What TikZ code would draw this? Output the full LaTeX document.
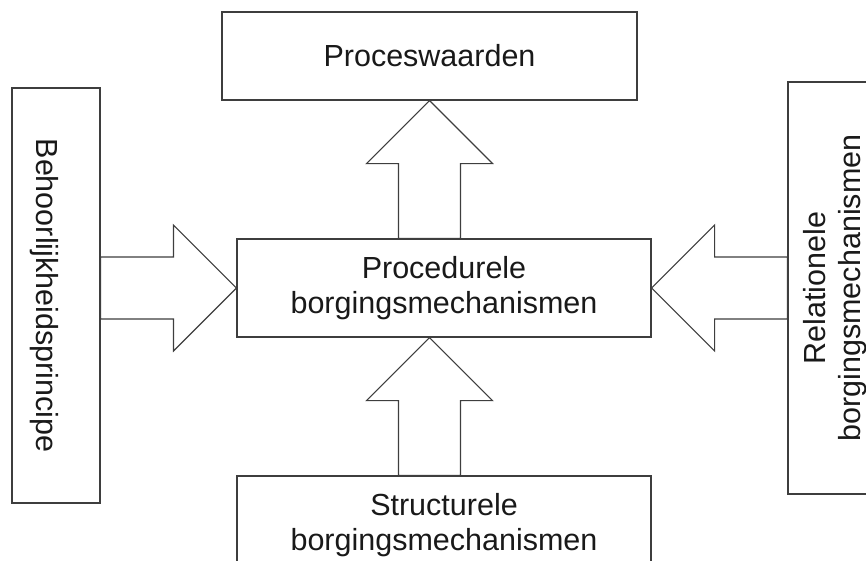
\documentclass[tikz,border=0pt]{standalone}
\usepackage{fontspec}
\setmainfont{Liberation Sans}
\usepackage{graphicx}
\usetikzlibrary{calc,positioning}
\definecolor{dgLine}{RGB}{62,62,62}
\definecolor{dgText}{RGB}{25,25,25}

\begin{document}
\begin{tikzpicture}[
  x=1pt, y=-1pt,
  font=\fontsize{30.5}{35}\selectfont,
  box/.style={draw=dgLine, line width=1.2pt, inner sep=0pt, align=center, text=dgText},
  hbox/.style={box, minimum width=414pt, minimum height=98pt},
  vbox/.style={box, minimum width=88pt, minimum height=415pt},
  bigar/.style={draw=dgLine, line width=1.2pt, line join=miter,
    to path={let \p1=($(\tikztotarget)!63pt!(\tikztostart)$) in
      ($(\tikztostart)!31pt!90:(\tikztotarget)$)
      -- ($(\p1)!31pt!90:(\tikztotarget)$)
      -- ($(\p1)!63pt!90:(\tikztotarget)$)
      -- (\tikztotarget)
      -- ($(\p1)!63pt!-90:(\tikztotarget)$)
      -- ($(\p1)!31pt!-90:(\tikztotarget)$)
      -- ($(\tikztostart)!31pt!-90:(\tikztotarget)$)
      -- cycle}}
]
  \useasboundingbox (0,0) rectangle (866,560);
  \clip (0,0) rectangle (866,560);
  \node[box, minimum width=415pt, minimum height=88pt] (pw) at (429.5,56) {Proceswaarden};
  \node[hbox] (proc) at (444,288) {Procedurele\\borgingsmechanismen};
  \node[hbox] (str) at (444,525) {Structurele\\borgingsmechanismen};
  \node[vbox] (beh) at (56,295.5) {\rotatebox{-90}{Behoorlijkheidsprincipe}\hspace*{24pt}};
  \node[vbox, minimum width=96pt, minimum height=412pt] (rel) at (836,288)
    {\rotatebox{90}{\begin{tabular}{@{}c@{}}Relationele\\borgingsmechanismen\end{tabular}}};
  \draw[bigar] (proc.north -| pw.south) to (pw.south);
  \draw[bigar] (str.north -| pw.south) to (proc.south -| pw.south);
  \draw[bigar] (beh.east |- proc.west) to (proc.west);
  \draw[bigar] (rel.west |- proc.east) to (proc.east);
\end{tikzpicture}
\end{document}
